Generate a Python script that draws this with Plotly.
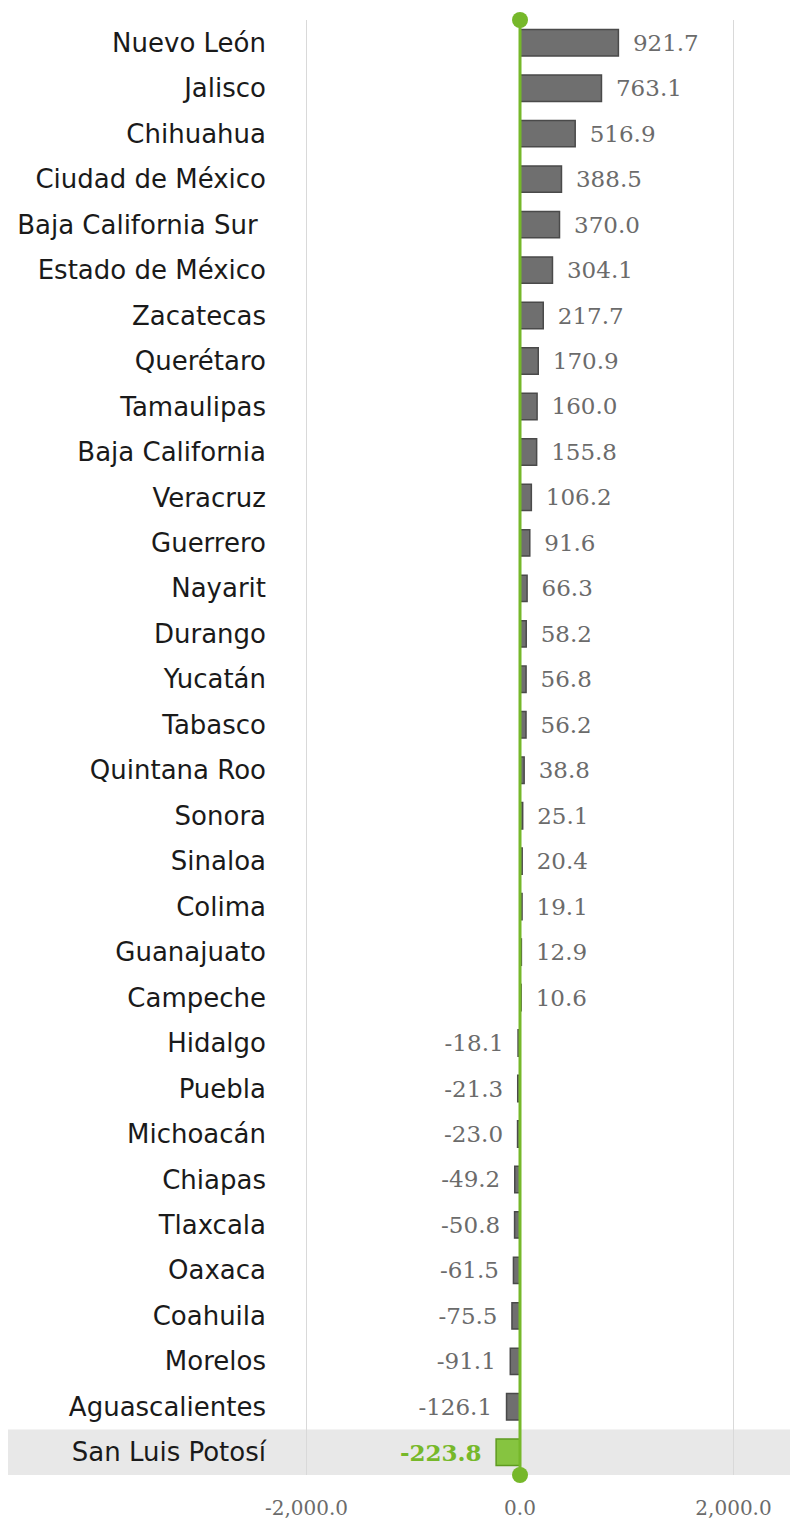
import plotly.graph_objects as go

states = ["Nuevo León", "Jalisco", "Chihuahua", "Ciudad de México", "Baja California Sur\u00a0",
          "Estado de México", "Zacatecas", "Querétaro", "Tamaulipas", "Baja California",
          "Veracruz", "Guerrero", "Nayarit", "Durango", "Yucatán", "Tabasco", "Quintana Roo",
          "Sonora", "Sinaloa", "Colima", "Guanajuato", "Campeche", "Hidalgo", "Puebla",
          "Michoacán", "Chiapas", "Tlaxcala", "Oaxaca", "Coahuila", "Morelos",
          "Aguascalientes", "San Luis Potosí"]
values = [921.7, 763.1, 516.9, 388.5, 370.0, 304.1, 217.7, 170.9, 160.0, 155.8, 106.2, 91.6,
          66.3, 58.2, 56.8, 56.2, 38.8, 25.1, 20.4, 19.1, 12.9, 10.6, -18.1, -21.3, -23.0,
          -49.2, -50.8, -61.5, -75.5, -91.1, -126.1, -223.8]
highlight = "San Luis Potosí"
tick_vals = [-2000, 0, 2000]
tick_text = ["-2,000.0", "0.0", "2,000.0"]

GREEN = "#76b82a"
GRAY_BAR = "#6f6f6f"
GAP = "\u2002"

colors = [("#86c440" if s == highlight else GRAY_BAR) for s in states]
line_colors = [("#5e9a1f" if s == highlight else "#4a4a4a") for s in states]
texts = []
for s, v in zip(states, values):
    t = f"<b>{v:.1f}</b>" if s == highlight else f"{v:.1f}"
    texts.append(GAP + t if v >= 0 else t + GAP)
text_colors = [GREEN if s == highlight else "#6b6b6b" for s in states]

fig = go.Figure()
fig.add_trace(go.Bar(
    x=values, y=states, orientation="h",
    marker=dict(color=colors, line=dict(color=line_colors, width=1.5)),
    text=texts, textposition="outside", constraintext="none",
    textfont=dict(family="DejaVu Serif", color=text_colors, size=23),
    cliponaxis=False, hoverinfo="skip",
))

idx = states.index(highlight)
shapes = [
    dict(type="rect", xref="paper", yref="y", x0=-0.516, x1=1.0, y0=idx - 0.5, y1=idx + 0.5,
         fillcolor="#e8e8e8", line=dict(width=0), layer="below"),
    dict(type="line", xref="x", yref="paper", x0=0, x1=0, y0=0, y1=1,
         line=dict(color=GREEN, width=3), layer="above"),
]
for yy in (0, 1):
    shapes.append(dict(type="circle", xref="x", yref="paper", xsizemode="pixel", ysizemode="pixel",
                       xanchor=0, yanchor=yy, x0=-8, x1=8, y0=-8, y1=8,
                       fillcolor=GREEN, line=dict(width=0), layer="above"))

fig.update_layout(
    width=790, height=1512,
    margin=dict(l=267, r=0, t=12, b=45),
    paper_bgcolor="white", plot_bgcolor="white",
    showlegend=False, bargap=0.42,
    shapes=shapes,
    xaxis=dict(range=[-2295, 2604], tickvals=tick_vals, ticktext=tick_text,
               showgrid=True, gridcolor="#d9d9d9", gridwidth=1, zeroline=False,
               tickfont=dict(family="DejaVu Serif", size=20, color="#6b6b6b"),
               ticks="", ticklabelstandoff=19),
    yaxis=dict(autorange="reversed", showgrid=False, zeroline=False, ticks="",
               tickfont=dict(family="DejaVu Sans", size=26, color="#1a1a1a"),
               ticklabelstandoff=8),
)

fig.write_html("out.html")
